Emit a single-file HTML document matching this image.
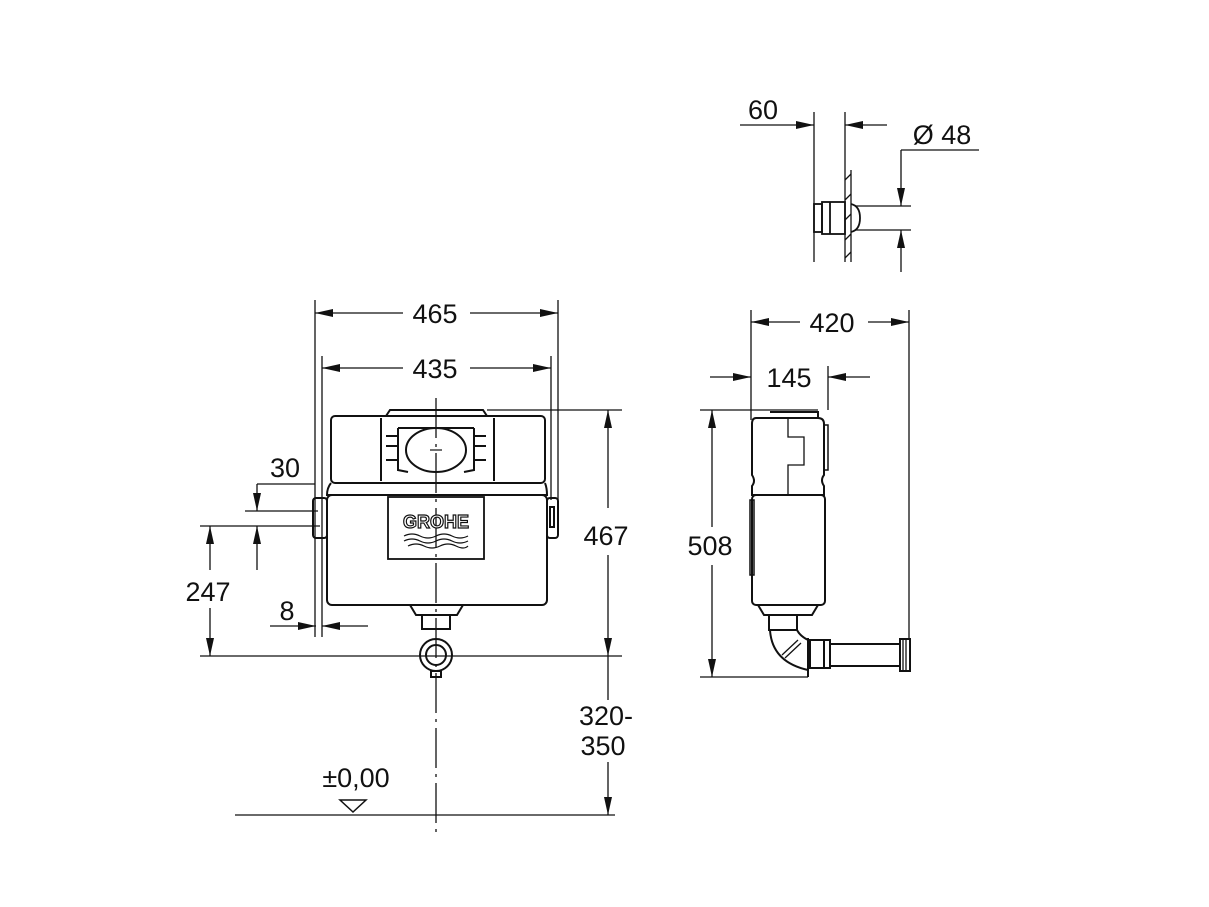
<!DOCTYPE html>
<html><head><meta charset="utf-8"><style>
html,body{margin:0;padding:0;background:#fff;}
svg{display:block;}
text{font-family:"Liberation Sans",Arial,sans-serif;font-size:27px;fill:#111;}
</style></head><body>
<svg width="1209" height="907" viewBox="0 0 1209 907" xmlns="http://www.w3.org/2000/svg">
<g stroke="#111" stroke-width="1.3" fill="none">
<line x1="315" y1="300" x2="315" y2="637"/>
<line x1="558" y1="300" x2="558" y2="500"/>
<line x1="315" y1="313" x2="403" y2="313"/><line x1="470" y1="313" x2="558" y2="313"/>
<line x1="322" y1="356" x2="322" y2="637"/>
<line x1="551" y1="356" x2="551" y2="500"/>
<line x1="322" y1="368" x2="403" y2="368"/><line x1="470" y1="368" x2="551" y2="368"/>
<line x1="436" y1="398" x2="436" y2="832" stroke-dasharray="40,6,3,6"/>
<line x1="487" y1="410" x2="622" y2="410"/>
<line x1="608" y1="410" x2="608" y2="508"/><line x1="608" y1="555" x2="608" y2="656"/>
<line x1="608" y1="656" x2="608" y2="700"/><line x1="608" y1="762" x2="608" y2="815"/>
<line x1="200" y1="656" x2="622" y2="656"/>
<line x1="235" y1="815" x2="615" y2="815"/>
<polygon points="340,800 366,800 353,812" stroke-width="1.5"/>
<line x1="257" y1="484" x2="315" y2="484"/>
<line x1="257" y1="484" x2="257" y2="511"/>
<line x1="245" y1="511" x2="318" y2="511"/>
<line x1="200" y1="526" x2="320" y2="526"/>
<line x1="257" y1="526" x2="257" y2="570"/>
<line x1="210" y1="526" x2="210" y2="570"/><line x1="210" y1="608" x2="210" y2="656"/>
<line x1="270" y1="626" x2="316" y2="626"/><line x1="322" y1="626" x2="368" y2="626"/>
</g>
<g fill="#111">
<polygon points="315,313 333,309 333,317"/><polygon points="558,313 540,309 540,317"/>
<polygon points="322,368 340,364 340,372"/><polygon points="551,368 533,364 533,372"/>
<polygon points="608,410 604,428 612,428"/><polygon points="608,656 604,638 612,638"/>
<polygon points="608,815 604,797 612,797"/>
<polygon points="257,511 253,493 261,493"/><polygon points="257,526 253,544 261,544"/>
<polygon points="210,526 206,544 214,544"/><polygon points="210,656 206,638 214,638"/>
<polygon points="316,626 298,622 298,630"/><polygon points="322,626 340,622 340,630"/>
</g>
<g>
<text x="435" y="323" text-anchor="middle">465</text>
<text x="435" y="378" text-anchor="middle">435</text>
<text x="285" y="477" text-anchor="middle">30</text>
<text x="208" y="601" text-anchor="middle">247</text>
<text x="287" y="620" text-anchor="middle">8</text>
<text x="606" y="545" text-anchor="middle">467</text>
<text x="606" y="725" text-anchor="middle">320-</text>
<text x="603" y="755" text-anchor="middle">350</text>
<text x="356" y="787" text-anchor="middle">±0,00</text>
</g>
<g stroke="#111" stroke-width="2" fill="none">
<path d="M386,416 L390,410 L483,410 L487,416"/>
<rect x="331" y="416" width="214" height="67" rx="4"/>
<line x1="381" y1="418" x2="381" y2="481"/><line x1="494" y1="418" x2="494" y2="481"/>
<path d="M331,483 Q327,488 327,495 L547,495 Q547,488 545,483"/>
<rect x="327" y="495" width="220" height="110" rx="5"/>
<rect x="313" y="498" width="14" height="40" rx="3"/>
<rect x="547" y="498" width="11" height="40" rx="3"/>
<rect x="550" y="507" width="4" height="20"/>
<rect x="388" y="497" width="96" height="62" stroke-width="1.8"/>
<ellipse cx="436" cy="450" rx="30" ry="22"/>
<path d="M398,428 L398,470 L408,472 M474,428 L474,470 L464,472 M398,428 L474,428"/>
<path d="M386,436 h12 M386,446 h12 M386,460 h12 M474,436 h12 M474,446 h12 M474,460 h12"/>
<path d="M410,605 L416,615 L457,615 L463,605"/>
<rect x="422" y="615" width="28" height="14"/>
<circle cx="436" cy="655" r="16"/>
<circle cx="436" cy="655" r="10"/>
<rect x="431" y="671" width="10" height="6"/>
</g>
<g stroke="#111" stroke-width="1.2" fill="none">
<line x1="430" y1="450" x2="442" y2="450"/>
<path d="M404,536 q8,-4 16,0 t16,0 t16,0 t16,0 M404,541 q8,-4 16,0 t16,0 t16,0 t16,0 M408,546 q8,-4 16,0 t16,0 t16,0 t12,0"/>
</g>
<text x="436" y="528" text-anchor="middle" style="font-size:18px;fill:#fff;stroke:#111;stroke-width:1.2;font-weight:bold;">GROHE</text>

<g stroke="#111" stroke-width="1.3" fill="none">
<line x1="751" y1="310" x2="751" y2="420"/>
<line x1="909" y1="310" x2="909" y2="640"/>
<line x1="751" y1="322" x2="800" y2="322"/><line x1="868" y1="322" x2="909" y2="322"/>
<line x1="828" y1="366" x2="828" y2="410"/>
<line x1="710" y1="377" x2="751" y2="377"/><line x1="828" y1="377" x2="870" y2="377"/>
<line x1="700" y1="410" x2="818" y2="410"/>
<line x1="700" y1="677" x2="808" y2="677"/>
<line x1="712" y1="410" x2="712" y2="527"/><line x1="712" y1="565" x2="712" y2="677"/>
</g>
<g fill="#111">
<polygon points="751,322 769,318 769,326"/><polygon points="909,322 891,318 891,326"/>
<polygon points="751,377 733,373 733,381"/><polygon points="828,377 846,373 846,381"/>
<polygon points="712,410 708,428 716,428"/><polygon points="712,677 708,659 716,659"/>
</g>
<text x="832" y="332" text-anchor="middle">420</text>
<text x="789" y="387" text-anchor="middle">145</text>
<text x="710" y="555" text-anchor="middle">508</text>
<g stroke="#111" stroke-width="2" fill="none">
<path d="M770,412 L818,412 L818,418"/>
<path d="M756,418 L818,418 Q824,418 824,424 L824,475 Q820,480 824,486 L824,495 L752,495 L752,486 Q756,481 752,475 L752,424 Q752,418 756,418"/>
<path d="M788,418 L788,437 L804,437 L804,465 L788,465 L788,495" stroke-width="1.3"/>
<rect x="824" y="425" width="4" height="45" stroke-width="1.5"/>
<rect x="752" y="495" width="73" height="110" rx="4"/>
<rect x="750" y="500" width="4" height="75" stroke-width="1.5"/>
<path d="M758,605 L764,615 L812,615 L818,605"/>
<rect x="769" y="615" width="28" height="15"/>
<path d="M770,630 Q772,662 808,670 M797,630 Q800,636 808,640"/>
<line x1="782" y1="655" x2="798" y2="640" stroke-width="1.3"/><line x1="785" y1="658" x2="801" y2="643" stroke-width="1.3"/>
<line x1="808" y1="638" x2="808" y2="677"/>
<rect x="810" y="640" width="20" height="28"/>
<line x1="824" y1="640" x2="824" y2="668"/>
<rect x="830" y="644" width="70" height="22"/>
<rect x="900" y="639" width="10" height="32"/>
<path d="M903,639 v32 M906,639 v32" stroke-width="1.3"/>
</g>

<g stroke="#111" stroke-width="1.3" fill="none">
<line x1="814" y1="112" x2="814" y2="262"/>
<line x1="845" y1="112" x2="845" y2="262"/>
<line x1="851" y1="170" x2="851" y2="262"/>
<path d="M845,180 l6,-6 M845,200 l6,-6 M845,220 l6,-6 M845,240 l6,-6 M845,258 l6,-6"/>
<line x1="740" y1="125" x2="814" y2="125"/><line x1="845" y1="125" x2="887" y2="125"/>
<line x1="901" y1="150" x2="979" y2="150"/>
<line x1="901" y1="150" x2="901" y2="206"/>
<line x1="855" y1="206" x2="911" y2="206"/><line x1="855" y1="230" x2="911" y2="230"/>
<line x1="901" y1="230" x2="901" y2="272"/>
</g>
<g stroke="#111" stroke-width="1.8" fill="none">
<rect x="814" y="204" width="8" height="28"/>
<rect x="822" y="202" width="23" height="32"/>
<line x1="830" y1="202" x2="830" y2="234"/>
<path d="M851,204 Q860,206 860,218 Q860,230 851,232"/>
</g>
<g fill="#111">
<polygon points="814,125 796,121 796,129"/><polygon points="845,125 863,121 863,129"/>
<polygon points="901,206 897,188 905,188"/><polygon points="901,230 897,248 905,248"/>
</g>
<text x="763" y="119" text-anchor="middle">60</text>
<text x="942" y="144" text-anchor="middle">Ø 48</text>
</svg>
</body></html>
